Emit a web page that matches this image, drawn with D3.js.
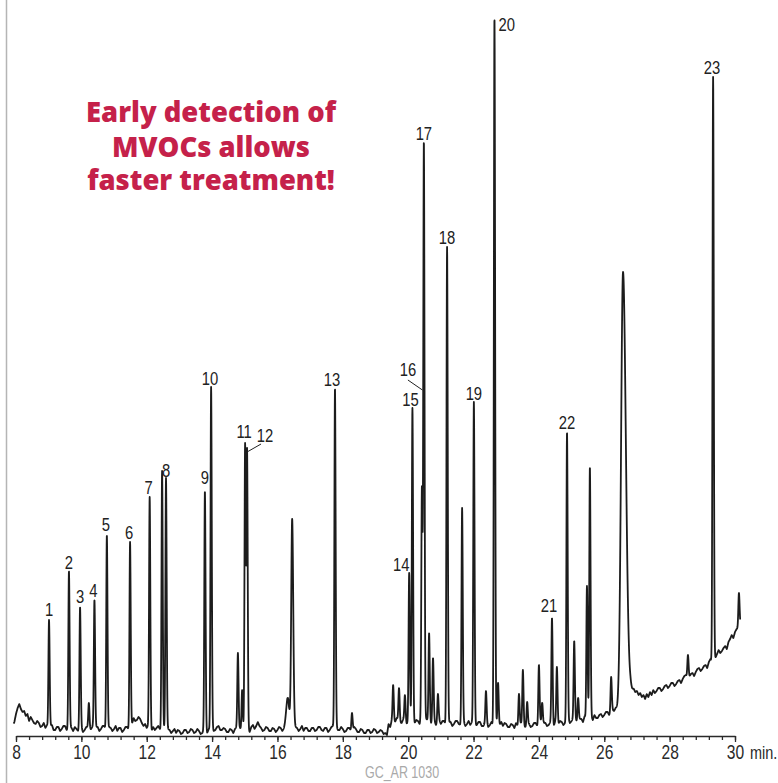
<!DOCTYPE html>
<html>
<head>
<meta charset="utf-8">
<script src="https://cdn.jsdelivr.net/npm/d3@7/dist/d3.min.js"></script>
<style>
  html, body { margin: 0; padding: 0; background: #fff; }
  svg { display: block; }
</style>
</head>
<body>
<svg id="chart" width="778" height="783"></svg>
<script>
// ---------------- DATA ----------------
const axisDomain = [8, 30];
const majorTicks = [8, 10, 12, 14, 16, 18, 20, 22, 24, 26, 28, 30];
const axisUnit = "min.";
const footnote = "GC_AR 1030";
const titleLines = ["Early detection of", "MVOCs allows", "faster treatment!"];

// Baseline signal (arbitrary units) read every 0.05 min from 7.90 to 30.20
const baselineStart = 7.9;
const baselineStep = 0.05;
const baselineValues = [
  10, 14,
  22, 28, 32, 27, 24, 25, 20, 22, 15, 19, 16, 13, 12, 15, 13, 9, 10, 13, 8, 11,
  7, 10, 11, 6, 6, 9, 9, 5, 7, 10, 10, 6, 6, 9, 8, 5, 9, 7, 5, 8,
  8, 4, 6, 9, 9, 5, 7, 10, 6, 9, 9, 5, 7, 10, 10, 6, 6, 9, 8, 5,
  7, 10, 5, 8, 8, 4, 6, 9, 9, 6, 7, 12, 18, 15, 16, 19, 17, 13, 10, 12,
  8, 11, 7, 5, 9, 6, 8, 10, 7, 4, 6, 8, 4, 7, 6, 3, 5, 7, 3, 6,
  5, 2, 3, 6, 6, 3, 4, 7, 6, 3, 4, 7, 5, 2, 3, 6, 6, 3, 7, 5,
  8, 5, 6, 9, 10, 6, 6, 8, 7, 4, 4, 7, 6, 3, 7, 9, 5, 8, 6, 3,
  7, 9, 6, 4, 9, 11, 7, 10, 14, 10, 8, 5, 6, 9, 8, 5, 5, 8, 7, 4,
  6, 9, 8, 5, 7, 10, 12, 9, 14, 11, 12, 9, 8, 5, 7, 10, 5, 8, 8, 5,
  5, 8, 8, 5, 6, 9, 9, 6, 5, 8, 8, 4, 6, 9, 10, 7, 9, 6, 6, 9,
  7, 4, 5, 8, 8, 5, 6, 9, 7, 4, 4, 7, 6, 3, 3, 6, 6, 3, 4, 7,
  6, 3, 4, 6, 5, 2, 3, 1, 12, 9, 16, 13, 14, 18, 17, 13, 13, 17, 16, 12,
  14, 18, 17, 13, 13, 16, 15, 12, 18, 15, 14, 17, 16, 13, 12, 16, 15, 11, 13, 16,
  12, 15, 15, 11, 11, 14, 14, 10, 12, 15, 15, 12, 11, 14, 14, 10, 12, 15, 11, 14,
  13, 10, 11, 14, 14, 10, 10, 13, 13, 9, 11, 14, 10, 13, 13, 9, 11, 14, 10, 13,
  12, 9, 9, 12, 11, 8, 13, 10, 10, 13, 12, 9, 9, 12, 12, 9, 10, 13, 13, 10,
  12, 15, 10, 13, 13, 10, 11, 14, 12, 9, 15, 12, 12, 15, 14, 11, 13, 16, 16, 13,
  15, 18, 18, 15, 14, 17, 17, 14, 20, 17, 16, 19, 19, 16, 21, 18, 18, 21, 22, 19,
  21, 24, 24, 21, 23, 26, 25, 28, 27, 30, 30, 33, 34, 38, 42, 45, 48, 46, 47, 44,
  45, 41, 43, 39, 41, 37, 42, 39, 44, 41, 46, 43, 45, 48, 48, 45, 47, 50, 51, 48,
  50, 53, 53, 50, 52, 55, 56, 53, 57, 60, 61, 58, 59, 62, 63, 60, 64, 67, 68, 65,
  67, 70, 71, 68, 74, 77, 73, 76, 78, 82, 86, 83, 85, 88, 90, 87, 94, 97, 101, 98,
  104, 107, 108, 111, 111
];

// Peaks: retention time (min), apex signal, label ("" = unlabeled)
const peakTimes  = [9.01, 9.62, 9.96, 10.23, 10.40, 10.78, 11.49, 12.09, 12.47, 12.59,
                    13.78, 13.97, 14.79, 14.92, 15.01, 15.07, 16.32, 16.45, 17.76, 18.28,
                    19.54, 19.72, 19.90, 20.03, 20.13, 20.42, 20.48, 20.64, 20.76, 20.91,
                    21.19, 21.65, 22.01, 22.38, 22.64, 22.75, 23.39, 23.51, 23.64, 24.00,
                    24.10, 24.40, 24.55, 24.86, 25.08, 25.20, 25.47, 25.56, 26.21, 26.574,
                    28.56, 29.33, 30.12];
const peakApex   = [116, 165, 129, 33, 136, 201, 194, 239, 265, 258,
                    245, 349, 83, 46, 292, 285, 38, 217, 348, 23,
                    51, 48, 41, 163, 328, 248, 593, 103, 78, 42,
                    489, 228, 334, 45, 719, 53, 42, 66, 34, 71,
                    33, 118, 69, 304, 95, 38, 150, 269, 59, 464,
                    81, 659, 143];
const peakLabels = ["1", "2", "3", "", "4", "5", "6", "7", "", "8",
                    "9", "10", "", "", "11", "12", "", "", "13", "",
                    "", "", "", "14", "15", "16", "17", "", "", "",
                    "18", "", "19", "", "20", "", "", "", "", "",
                    "", "21", "", "22", "", "", "", "", "", "",
                    "", "23", ""];

// ---------------- LAYOUT / STYLE ----------------
const W = 778, H = 783;
const svg = d3.select("#chart");
const condFont = "'Liberation Sans', Arial, sans-serif";
const SQ = 0.78; // horizontal squeeze to imitate a condensed face

const x = d3.scaleLinear().domain(axisDomain).range([16, 735]);
const y = d3.scaleLinear().domain([0, 719]).range([736, 17]);

// rendering widths of peak shapes (minutes)
const widthOf = (t) => {
  if (Math.abs(t - 26.574) < 0.01) return [0.06, 0.085];
  if (Math.abs(t - 16.32) < 0.01) return [0.05, 0.04];
  if (Math.abs(t - 16.45) < 0.01) return [0.028, 0.032];
  return [0.018, 0.02];
};

const baseTimes = baselineValues.map((_, i) => baselineStart + i * baselineStep);
const baseline = d3.scaleLinear().domain(baseTimes).range(baselineValues).clamp(true);

const peaks = peakTimes.map((t, i) => ({
  t, apex: peakApex[i], label: peakLabels[i],
  h: Math.max(0, peakApex[i] - baseline(t)),
  w: widthOf(t)
}));

function signal(t) {
  let v = baseline(t);
  for (const p of peaks) {
    const dt = t - p.t;
    const s = dt < 0 ? p.w[0] : p.w[1];
    const z = dt / s;
    if (Math.abs(z) < 6) v += p.h * Math.exp(-0.5 * z * z);
  }
  return v;
}

const samples = d3.range(7.93, 30.16, 0.004).map(t => ({ t, v: signal(t) }));

// left frame line
svg.append("line")
  .attr("x1", 6.5).attr("x2", 6.5).attr("y1", 0).attr("y2", H)
  .attr("stroke", "#b5b5b5").attr("stroke-width", 1.5);

// trace
svg.append("path")
  .datum(samples)
  .attr("fill", "none")
  .attr("stroke", "#1c1c1c")
  .attr("stroke-width", 1.8)
  .attr("stroke-linejoin", "round")
  .attr("d", d3.line().x(d => x(d.t)).y(d => y(d.v)));

// axis: minor ticks
const minorTicks = d3.range(axisDomain[0], axisDomain[1] + 0.001, 0.4);
const gMinor = svg.append("g").attr("transform", `translate(0,${y(0)})`)
  .call(d3.axisBottom(x).tickValues(minorTicks).tickSize(4).tickFormat("").tickSizeOuter(0));
gMinor.select(".domain").attr("stroke", "#2a2a2a").attr("stroke-width", 1.6);
gMinor.selectAll(".tick line").attr("stroke", "#2a2a2a").attr("stroke-width", 1.3);

const gMajor = svg.append("g").attr("transform", `translate(0,${y(0)})`)
  .call(d3.axisBottom(x).tickValues(majorTicks).tickSize(6).tickPadding(3).tickFormat(d3.format("d")).tickSizeOuter(0));
gMajor.select(".domain").remove();
gMajor.selectAll(".tick line").attr("stroke", "#2a2a2a").attr("stroke-width", 1.3);
gMajor.selectAll(".tick text")
  .attr("fill", "#2a2a2a")
  .attr("transform", `scale(${SQ},1)`)
  .style("font-family", condFont)
  .style("font-size", "20px");

svg.append("text")
  .attr("transform", `translate(750,759) scale(${SQ},1)`)
  .attr("fill", "#2a2a2a")
  .style("font-family", condFont)
  .style("font-size", "18.5px")
  .text(axisUnit);

// peak labels (offsets from peak apex, pixels)
const labelOffset = {
  "1": [0, -4], "2": [0, -2], "3": [0, -4], "4": [-1, -3], "5": [-1, -4], "6": [-1, -3],
  "7": [-1, -3], "8": [0, -1], "9": [0, -7], "10": [-1, -2], "11": [-1, -6], "12": [18, -9],
  "13": [-3, -2], "14": [-8, -2], "15": [-2, -2], "16": [-14, -112], "17": [0, -3],
  "18": [0, -3], "19": [0, -2], "20": [4, 14], "21": [-3, -6], "22": [0, -3], "23": [-1, -3]
};
const gLab = svg.append("g")
  .style("font-family", condFont)
  .style("font-size", "19px")
  .attr("fill", "#222");
peaks.filter(p => p.label).forEach(p => {
  const off = labelOffset[p.label] || [0, -3];
  const px = x(p.t), py = y(p.apex);
  gLab.append("text")
    .attr("transform", `translate(${px + off[0]},${py + off[1]}) scale(${SQ},1)`)
    .attr("text-anchor", p.label === "20" ? "start" : "middle")
    .text(p.label);
});

// leader lines for co-eluting peaks 12 and 16
const leader = (label, fromDx, fromDy, toDx, toDy) => {
  const p = peaks.find(d => d.label === label);
  const px = x(p.t), py = y(p.apex);
  svg.append("line")
    .attr("x1", px + fromDx).attr("y1", py + fromDy)
    .attr("x2", px + toDx).attr("y2", py + toDy)
    .attr("stroke", "#222").attr("stroke-width", 1);
};
leader("12", 14, -7, 0, 1);
leader("16", -14, -108, 0.5, -98);

// title (sized so the first line spans ~250 px like the reference)
const title = svg.append("text")
  .attr("text-anchor", "middle")
  .attr("fill", "#c5214a")
  .style("font-family", "'Open Sans', 'Noto Sans', sans-serif")
  .style("font-weight", "800")
  .style("font-size", "24px");
const titleY = [122, 156.5, 190];
const spans = titleLines.map((s, i) =>
  title.append("tspan").attr("x", 211).attr("y", titleY[i]).text(s));
const len0 = spans[0].node().getComputedTextLength();
if (len0 > 0) title.style("font-size", (24 * 250 / len0).toFixed(2) + "px");

// footnote
svg.append("text")
  .attr("transform", `translate(402,778) scale(${SQ},1)`)
  .attr("text-anchor", "middle")
  .attr("fill", "#a9a9a9")
  .style("font-family", condFont)
  .style("font-size", "16px")
  .text(footnote);
</script>
</body>
</html>
